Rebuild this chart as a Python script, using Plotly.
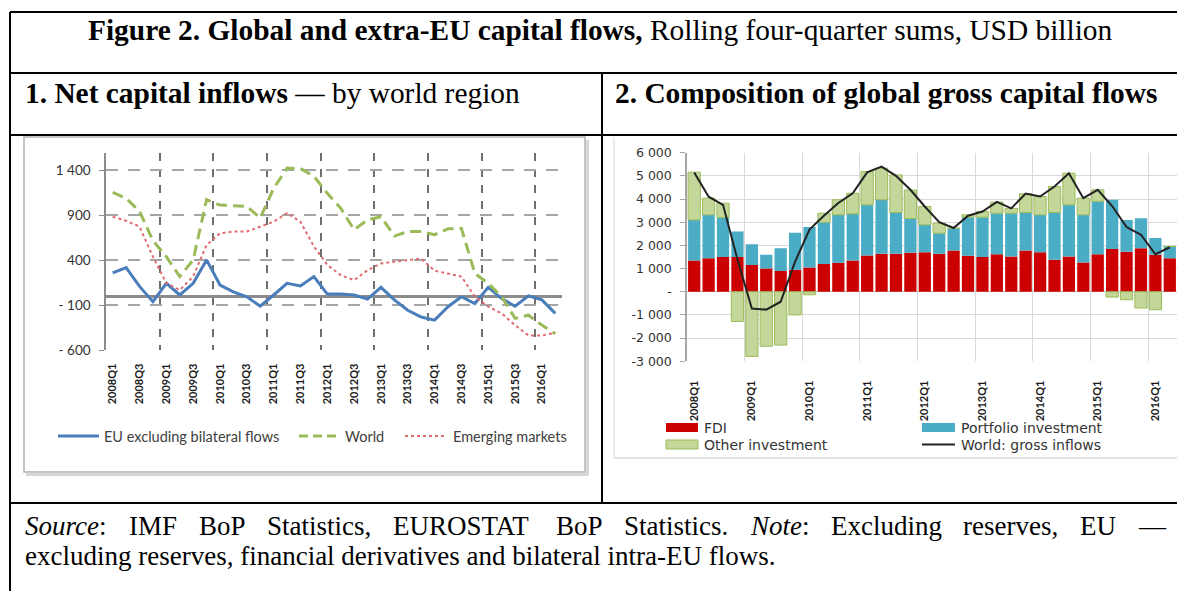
import plotly.graph_objects as go

W, H = 1177, 591

# ---------------- data ----------------
quarters = ["2008Q1", "2008Q2", "2008Q3", "2008Q4", "2009Q1", "2009Q2", "2009Q3", "2009Q4",
            "2010Q1", "2010Q2", "2010Q3", "2010Q4", "2011Q1", "2011Q2", "2011Q3", "2011Q4",
            "2012Q1", "2012Q2", "2012Q3", "2012Q4", "2013Q1", "2013Q2", "2013Q3", "2013Q4",
            "2014Q1", "2014Q2", "2014Q3", "2014Q4", "2015Q1", "2015Q2", "2015Q3", "2015Q4",
            "2016Q1", "2016Q2"]

# Panel 1: net capital inflows (USD bn)
eu_excl_bilateral = [260, 320, 110, -60, 145, 15, 145, 405, 125, 50, -5, -110, 15, 145, 115, 220,
                     25, 25, 15, -30, 100, -40, -155, -230, -265, -115, -5, -80, 100, -25, -110, 5,
                     -40, -190]
world_net = [1155, 1090, 945, 620, 440, 220, 405, 1075, 1015, 1005, 1000, 870, 1200, 1425, 1420, 1335,
             1145, 980, 740, 850, 885, 670, 720, 720, 685, 750, 755, 255, 145, -5, -245, -210,
             -320, -415]
emerging_markets = [885, 840, 775, 440, 145, 70, 220, 570, 700, 720, 720, 775, 830, 925, 830, 555,
                    350, 235, 180, 290, 365, 385, 405, 420, 285, 250, 220, -5, -115, -190, -320, -435,
                    -435, -405]

# Panel 2: composition of global gross capital flows (USD bn)
fdi = [1350, 1450, 1500, 1500, 1150, 1000, 900, 950, 1050, 1200, 1250, 1350, 1570, 1640, 1640, 1680,
       1700, 1640, 1780, 1550, 1500, 1620, 1520, 1780, 1710, 1380, 1520, 1260, 1620, 1840, 1725, 1880,
       1595, 1450]
portfolio = [1750, 1870, 1700, 1100, 900, 600, 980, 1600, 1740, 1800, 2070, 2010, 2180, 2330, 1780, 1480,
             1190, 890, 965, 1670, 1720, 1770, 1870, 1640, 1610, 2040, 2230, 2060, 2280, 2125, 1375, 1295,
             720, 505]
other = [2060, 720, 620, -1280, -2790, -2350, -2300, -1000, -130, 390, 650, 890, 1440, 1360, 1620, 1230,
         790, 430, 0, 100, 240, 480, 210, 805, 790, 1120, 1365, 720, 500, -230, -345, -700,
         -775, 0]
world_gross = [5150, 4100, 3750, 1400, -720, -770, -430, 1300, 2680, 3280, 3830, 4250, 5150, 5400, 5000, 4400,
               3680, 3000, 2750, 3280, 3460, 3880, 3600, 4240, 4110, 4540, 5110, 4040, 4400, 3700, 2790, 2460,
               1620, 1920]

left_yticks = [-600, -100, 400, 900, 1400]
left_yticktext = ["- 600", "- 100", "400", "900", "1 400"]
right_yticks = [-3000, -2000, -1000, 0, 1000, 2000, 3000, 4000, 5000, 6000]
right_yticktext = ["-3 000", "-2 000", "-1 000", "-", "1 000", "2 000", "3 000", "4 000", "5 000", "6 000"]

title_bold = "Figure 2. Global and extra-EU capital flows,"
title_rest = " Rolling four-quarter sums, USD billion"
head1_bold, head1_rest = "1. Net capital inflows", " — by world region"
head2_bold = "2. Composition of global gross capital flows"
source_line1 = [[("Source", True), (":", False)], [("IMF", False)], [("BoP", False)],
                [("Statistics,", False)], [("EUROSTAT", False)], [("BoP", False)],
                [("Statistics.", False)], [("Note", True), (":", False)], [("Excluding", False)],
                [("reserves,", False)], [("EU", False)], [("—", False)]]
source_line2 = "excluding reserves, financial derivatives and bilateral intra-EU flows."

# ---------------- styles ----------------
C_EU, C_WORLD, C_EM = "#4a7ebb", "#9bbb59", "#e06a72"
C_FDI, C_PORT, C_OTH, C_OTH_LINE, C_GROSS = "#cc0000", "#4bacc6", "#c4d79b", "#9bbb59", "#222222"
SERIF = "Liberation Serif, Times New Roman, serif"
LFONT = "Lato, Liberation Sans, sans-serif"
RFONT = "DejaVu Sans, Verdana, sans-serif"


def px(x):
    return x / W


def py(y):
    return 1 - y / H


xpos = list(range(len(quarters)))
year_bounds = [i - 0.5 for i, q in enumerate(quarters) if q.endswith("Q1") and i > 0]

fig = go.Figure()

# panel 1 lines
fig.add_trace(go.Scatter(x=xpos, y=eu_excl_bilateral, mode="lines", name="EU excluding bilateral flows",
                         line=dict(color=C_EU, width=3), xaxis="x", yaxis="y"))
fig.add_trace(go.Scatter(x=xpos, y=world_net, mode="lines", name="World",
                         line=dict(color=C_WORLD, width=3, dash="11px,6px"), xaxis="x", yaxis="y"))
fig.add_trace(go.Scatter(x=xpos, y=emerging_markets, mode="lines", name="Emerging markets",
                         line=dict(color=C_EM, width=2, dash="dot"), xaxis="x", yaxis="y"))

# panel 2 bars + line
fig.add_trace(go.Bar(x=xpos, y=fdi, name="FDI", marker=dict(color=C_FDI, line=dict(width=0)),
                     xaxis="x2", yaxis="y2"))
fig.add_trace(go.Bar(x=xpos, y=portfolio, name="Portfolio investment",
                     marker=dict(color=C_PORT, line=dict(width=0)), xaxis="x2", yaxis="y2"))
fig.add_trace(go.Bar(x=xpos, y=other, name="Other investment",
                     marker=dict(color=C_OTH, line=dict(color=C_OTH_LINE, width=1)), xaxis="x2", yaxis="y2"))
fig.add_trace(go.Scatter(x=xpos, y=world_gross, mode="lines", name="World: gross inflows",
                         line=dict(color=C_GROSS, width=2), xaxis="x2", yaxis="y2"))

fig.update_layout(
    width=W, height=H, template="none",
    margin=dict(l=0, r=0, t=0, b=0),
    paper_bgcolor="white", plot_bgcolor="rgba(0,0,0,0)",
    showlegend=False, barmode="relative", bargap=0.15,
    xaxis=dict(domain=[px(106), px(562)], range=[-0.5, len(quarters) - 0.5], anchor="y",
               tickmode="array", tickvals=xpos[::2], ticktext=quarters[::2], tickangle=-90,
               tickfont=dict(family=LFONT, size=11, color="#1a1a1a", weight="bold"),
               showgrid=False, zeroline=False, showline=False, ticks="", ticklabelstandoff=10,
               minor=dict(tickmode="array", tickvals=year_bounds, showgrid=True, gridcolor="#6f6f6f",
                          gridwidth=1.5, griddash="8px,8px", ticks="")),
    yaxis=dict(domain=[py(350.3), py(153.3)], range=[-600, 1590], anchor="x",
               tickmode="array", tickvals=left_yticks, ticktext=left_yticktext,
               tickfont=dict(family=LFONT, size=13.5, color="#333333"),
               showgrid=True, gridcolor="#a6a6a6", gridwidth=1.5, griddash="12px,10px",
               zeroline=True, zerolinecolor="#8c8c8c", zerolinewidth=2.5,
               showline=True, linecolor="#8c8c8c", linewidth=1.5,
               ticks="outside", ticklen=5, tickcolor="#8c8c8c", ticklabelstandoff=6),
    xaxis2=dict(domain=[px(687), 1.0], range=[-0.5, len(quarters) - 0.5], anchor="y2",
                tickmode="array", tickvals=xpos[::4], ticktext=quarters[::4], tickangle=-90,
                tickfont=dict(family=LFONT, size=11, color="#1a1a1a", weight="bold"),
                showgrid=False, zeroline=False, showline=False, ticks="", ticklabelstandoff=16,
                minor=dict(tickmode="array", tickvals=year_bounds, showgrid=True, gridcolor="#d9d9d9",
                           gridwidth=1.2, ticks="")),
    yaxis2=dict(domain=[py(361.3), py(152.7)], range=[-3000, 6000], anchor="x2",
                tickmode="array", tickvals=right_yticks, ticktext=right_yticktext,
                tickfont=dict(family=RFONT, size=12.5, color="#333333"),
                showgrid=True, gridcolor="#d9d9d9", gridwidth=1.2,
                zeroline=True, zerolinecolor="#bfbfbf", zerolinewidth=1.2,
                showline=True, linecolor="#a6a6a6", linewidth=1.5,
                ticks="outside", ticklen=5, tickcolor="#a6a6a6", ticklabelstandoff=6),
)

shapes = []
ann = []


def hline(x0, x1, y, color="black", width=2, dash=None):
    shapes.append(dict(type="line", xref="paper", yref="paper", x0=px(x0), x1=px(x1), y0=py(y), y1=py(y),
                       line=dict(color=color, width=width, dash=dash)))


def vline(x, y0, y1, color="black", width=2):
    shapes.append(dict(type="line", xref="paper", yref="paper", x0=px(x), x1=px(x), y0=py(y0), y1=py(y1),
                       line=dict(color=color, width=width)))


def rect(x0, y0, x1, y1, fill, line_color=None, lw=0):
    shapes.append(dict(type="rect", xref="paper", yref="paper", x0=px(x0), x1=px(x1), y0=py(y1), y1=py(y0),
                       fillcolor=fill, line=dict(color=line_color or fill, width=lw)))


def text(t, x, y, family, size, color="black", anchor="left"):
    ann.append(dict(text=t, x=px(x), y=py(y), xref="paper", yref="paper", xanchor=anchor, yanchor="middle",
                    showarrow=False, font=dict(family=family, size=size, color=color), borderpad=0))


# table frame
for yy in (12, 73, 135, 503):
    hline(10, W, yy)
vline(10, 12, H)
vline(602, 73, 503)

# chart frames
hline(26, 588, 474.5, color="#d6d6d6", width=3)
vline(587.5, 140, 475, color="#d6d6d6", width=3)
shapes.append(dict(type="rect", xref="paper", yref="paper", x0=px(24), x1=px(585), y0=py(472), y1=py(137),
                   line=dict(color="#b3b3b3", width=1.5), fillcolor="rgba(0,0,0,0)", layer="below"))
vline(614, 137, 458, color="#ececec", width=2)
hline(614, W, 458, color="#e3e3e3", width=2)

# headings
text("<b>" + title_bold + "</b>" + title_rest, 600.5, 30, SERIF, 29.4, anchor="center")
text("<b>" + head1_bold + "</b>" + head1_rest, 24, 93, SERIF, 29.4)
text("<b>" + head2_bold + "</b>", 614, 93, SERIF, 29.4)

# source note, justified first line (Times metrics)
REG = {' ': 250, ',': 250, '-': 333, '.': 250, ':': 278, 'A': 722, 'B': 667, 'C': 667, 'D': 722, 'E': 611,
       'F': 556, 'I': 333, 'M': 889, 'N': 722, 'O': 722, 'P': 556, 'R': 667, 'S': 556, 'T': 611, 'U': 722,
       'a': 444, 'b': 500, 'c': 444, 'd': 500, 'e': 444, 'f': 333, 'g': 500, 'h': 500, 'i': 278, 'l': 278,
       'm': 778, 'n': 500, 'o': 500, 'p': 500, 'r': 333, 's': 389, 't': 278, 'u': 500, 'v': 500, 'x': 500,
       'y': 500, '—': 1000}
ITA = {'S': 500, 'o': 500, 'u': 500, 'r': 389, 'c': 444, 'e': 444, 'N': 667, 't': 278}
NOTE_SIZE = 27
widths = []
for word in source_line1:
    w = 0
    for seg, it in word:
        w += sum((ITA if it else REG).get(ch, 500) for ch in seg)
    widths.append(w / 1000 * NOTE_SIZE)
left_x, right_x = 24, 1164
gap = (right_x - left_x - sum(widths)) / (len(widths) - 1)
cx = left_x
for word, w in zip(source_line1, widths):
    t = "".join(("<i>%s</i>" % seg) if it else seg for seg, it in word)
    text(t, cx, 526, SERIF, NOTE_SIZE)
    cx += w + gap
text(source_line2, 24, 556, SERIF, NOTE_SIZE)

# legend panel 1
LEG_Y1 = 436
hline(58, 99, LEG_Y1, color=C_EU, width=3)
text("EU excluding bilateral flows", 103, LEG_Y1, LFONT, 14.5, "#404040")
hline(299, 338, LEG_Y1, color=C_WORLD, width=3, dash="9px,5px")
text("World", 344, LEG_Y1, LFONT, 14.5, "#404040")
hline(405, 446, LEG_Y1, color=C_EM, width=2, dash="dot")
text("Emerging markets", 452, LEG_Y1, LFONT, 14.5, "#404040")

# legend panel 2
rect(666, 423, 698, 432, C_FDI)
text("FDI", 703, 427.5, RFONT, 14, "#333333")
rect(922, 423, 955, 432, C_PORT)
text("Portfolio investment", 960, 427.5, RFONT, 14, "#333333")
rect(666, 440, 698, 449, C_OTH, C_OTH_LINE, 1)
text("Other investment", 703, 444.5, RFONT, 14, "#333333")
hline(922, 955, 444.5, color=C_GROSS, width=2)
text("World: gross inflows", 960, 444.5, RFONT, 14, "#333333")

fig.update_layout(shapes=shapes, annotations=ann)
fig.write_html("out.html", config={"displayModeBar": False},
               post_script="document.body.style.margin='0px';document.body.style.padding='0px';")
